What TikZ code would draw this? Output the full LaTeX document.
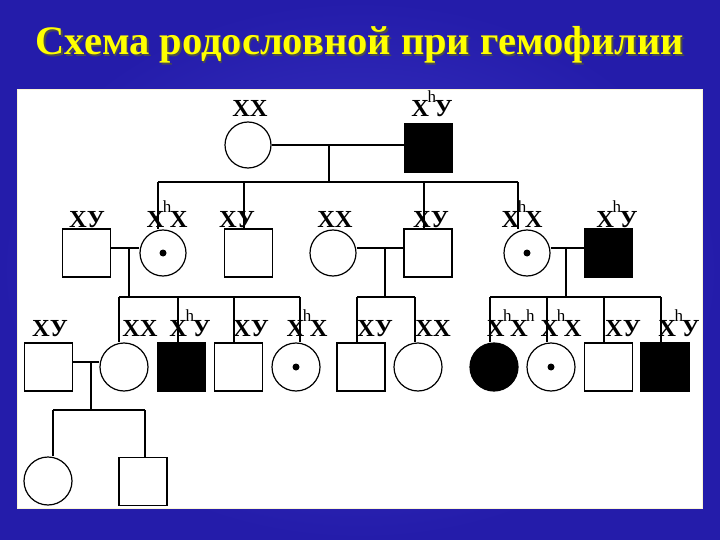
\documentclass[tikz,border=0pt]{standalone}
\usepackage{fontspec}
\setmainfont{Liberation Serif}
\definecolor{bgblue}{RGB}{36,28,170}
\definecolor{bglight}{RGB}{62,56,200}
\definecolor{ttl}{RGB}{255,255,0}
\definecolor{edge}{RGB}{250,245,215}
\newcommand\hsup{\raisebox{0.58em}{\fontsize{17}{17}\selectfont\mdseries h}}
\newcommand\XH{Х\kern-1.5pt\hsup\kern-1.5pt}
\begin{document}
\begin{tikzpicture}[x=1pt,y=-1pt,
  male/.style={draw, line width=1.2pt, minimum size=48pt, inner sep=0pt, fill=white},
  female/.style={circle, draw, line width=1.2pt, minimum size=46pt, inner sep=0pt, fill=white},
  aff/.style={fill=black},
  carrier/.style={female, path picture={\fill[black] (path picture bounding box.center) circle (3.5pt);}},
  lbl/.style={font=\fontsize{24.5}{24.5}\selectfont\bfseries, inner sep=0pt, anchor=base},
  ln/.style={line width=1.4pt}
]
\useasboundingbox (0,0) rectangle (720,540);
\shade[inner color=bglight, outer color=bgblue] (0,0) rectangle (720,540);
\fill[white] (17,90) rectangle (702,508);
\draw[edge, line width=1pt] (17,90) rectangle (702,508);

% title
\node[font=\fontsize{40.5}{40.5}\selectfont\bfseries, text=black!70] (tsh) at (361.5,46.5) {Схема родословной при гемофилии};
\node[font=\fontsize{40.5}{40.5}\selectfont\bfseries, text=ttl] (title) at (360,45) {Схема родословной при гемофилии};

% generation I
\node[female] (A) at (248,145) {};
\node[male, aff] (B) at (428.5,148) {};
\node[lbl] (lA) at (250,117) {ХХ};
\node[lbl] (lB) at (432,117) {\XH У};
\draw[ln] (A) -- (A -| B.west);
\coordinate (m1) at (329,145);
\coordinate (m1b) at (329,182);
\draw[ln] (m1) -- (m1b);
\coordinate (s1a) at (158,182);
\coordinate (s1b) at (244,182);
\coordinate (s1c) at (424,182);
\coordinate (s1d) at (518,182);
\draw[ln] (s1a) -- (s1d);

% generation II
\node[male] (C1) at (86.5,253) {};
\node[carrier] (C2) at (163,253) {};
\node[male] (C3) at (248.5,253) {};
\node[female] (C4) at (333,253) {};
\node[male] (C5) at (428,253) {};
\node[carrier] (C6) at (527,253) {};
\node[male, aff] (C7) at (608.5,253) {};
\node[lbl] (lC1) at (87,227) {ХУ};
\node[lbl] (lC2) at (167,227) {\XH Х};
\node[lbl] (lC3) at (237,227) {ХУ};
\node[lbl] (lC4) at (335,227) {ХХ};
\node[lbl] (lC5) at (431,227) {ХУ};
\node[lbl] (lC6) at (522,227) {\XH Х};
\node[lbl] (lC7) at (617,227) {\XH У};
\draw[ln] (s1a) -- (s1a |- C2.north);
\draw[ln] (s1b) -- (s1b |- C3.north);
\draw[ln] (s1c) -- (s1c |- C5.north);
\draw[ln] (s1d) -- (s1d |- C6.north);
\coordinate (h1) at (0,248);
\draw[ln] (C1.east |- h1) -- (C2.west |- h1);
\draw[ln] (C4.east |- h1) -- (C5.west |- h1);
\draw[ln] (C6.east |- h1) -- (C7.west |- h1);
\coordinate (m2) at (129,248);
\coordinate (m3) at (385,248);
\coordinate (m4) at (566,248);

% sibships III
\coordinate (s2a) at (119,297);
\coordinate (s2b) at (178,297);
\coordinate (s2c) at (234,297);
\coordinate (s2d) at (300,297);
\coordinate (s3a) at (357,297);
\coordinate (s3b) at (415,297);
\coordinate (s4a) at (490,297);
\coordinate (s4b) at (547,297);
\coordinate (s4c) at (604,297);
\coordinate (s4d) at (661,297);
\draw[ln] (m2) -- (m2 |- s2a);
\draw[ln] (m3) -- (m3 |- s3a);
\draw[ln] (m4) -- (m4 |- s4a);
\draw[ln] (s2a) -- (s2d);
\draw[ln] (s3a) -- (s3b);
\draw[ln] (s4a) -- (s4d);

% generation III
\node[male] (D1) at (48.5,367) {};
\node[female, minimum size=48pt] (D2) at (124,367) {};
\node[male, aff] (D3) at (181.5,367) {};
\node[male] (D4) at (238.5,367) {};
\node[carrier, minimum size=48pt] (D5) at (296,367) {};
\node[male] (D6) at (361,367) {};
\node[female, minimum size=48pt] (D7) at (418,367) {};
\node[female, aff, minimum size=48pt] (D8) at (494,367) {};
\node[carrier, minimum size=48pt] (D9) at (551,367) {};
\node[male] (D10) at (608.5,367) {};
\node[male, aff] (D11) at (665,367) {};
\node[lbl] (lD1) at (50,336) {ХУ};
\node[lbl] (lD2) at (140,336) {ХХ};
\node[lbl] (lD3) at (190,336) {\XH У};
\node[lbl] (lD4) at (251,336) {ХУ};
\node[lbl] (lD5) at (307,336) {\XH Х};
\node[lbl] (lD6) at (375,336) {ХУ};
\node[lbl] (lD7) at (433,336) {ХХ};
\node[lbl] (lD8) at (510,336) {\XH\XH};
\node[lbl] (lD9) at (561,336) {\XH Х};
\node[lbl] (lD10) at (623,336) {ХУ};
\node[lbl] (lD11) at (679,336) {\XH У};
\draw[ln] (s2a) -- (s2a |- D2.north);
\draw[ln] (s2b) -- (s2b |- D3.north);
\draw[ln] (s2c) -- (s2c |- D4.north);
\draw[ln] (s2d) -- (s2d |- D5.north);
\draw[ln] (s3a) -- (s3a |- D6.north);
\draw[ln] (s3b) -- (s3b |- D7.north);
\draw[ln] (s4a) -- (s4a |- D8.north);
\draw[ln] (s4b) -- (s4b |- D9.north);
\draw[ln] (s4c) -- (s4c |- D10.north);
\draw[ln] (s4d) -- (s4d |- D11.north);
\coordinate (h2) at (0,362);
\draw[ln] (D1.east |- h2) -- (D2.west |- h2);
\coordinate (m5) at (91,362);
\coordinate (s5a) at (53,410);
\coordinate (s5b) at (145,410);
\draw[ln] (m5) -- (m5 |- s5a);
\draw[ln] (s5a) -- (s5b);

% generation IV
\node[female, minimum size=48pt] (E1) at (48,481) {};
\node[male] (E2) at (143,481.5) {};
\draw[ln] (s5a) -- (s5a |- E1.north);
\draw[ln] (s5b) -- (s5b |- E2.north);
\end{tikzpicture}
\end{document}
